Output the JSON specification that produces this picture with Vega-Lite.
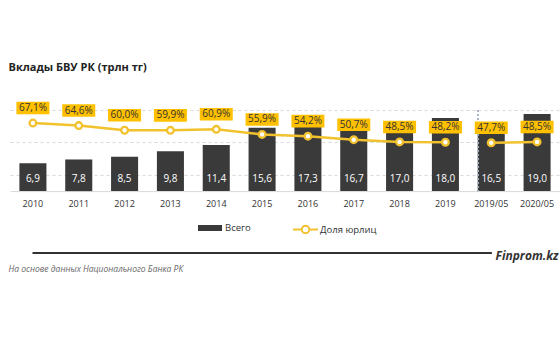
{
  "$schema": "https://vega.github.io/schema/vega-lite/v6.json",
  "autosize": "none",
  "width": 550,
  "height": 146,
  "padding": {"left": 10, "top": 110, "right": 0, "bottom": 97},
  "background": "white",
  "config": {
    "locale": {"number": {"decimal": ",", "thousands": " ", "grouping": [3], "currency": ["", ""]}},
    "font": "Open Sans",
    "view": {"stroke": null}
  },
  "data": {
    "values": [
      {"period": "2010", "total": 6.9, "share": 0.671, "grp": "год"},
      {"period": "2011", "total": 7.8, "share": 0.646, "grp": "год"},
      {"period": "2012", "total": 8.5, "share": 0.600, "grp": "год"},
      {"period": "2013", "total": 9.8, "share": 0.599, "grp": "год"},
      {"period": "2014", "total": 11.4, "share": 0.609, "grp": "год"},
      {"period": "2015", "total": 15.6, "share": 0.559, "grp": "год"},
      {"period": "2016", "total": 17.3, "share": 0.542, "grp": "год"},
      {"period": "2017", "total": 16.7, "share": 0.507, "grp": "год"},
      {"period": "2018", "total": 17.0, "share": 0.485, "grp": "год"},
      {"period": "2019", "total": 18.0, "share": 0.482, "grp": "год"},
      {"period": "2019/05", "total": 16.5, "share": 0.477, "grp": "май"},
      {"period": "2020/05", "total": 19.0, "share": 0.485, "grp": "май"}
    ]
  },
  "encoding": {
    "x": {
      "field": "period",
      "type": "nominal",
      "sort": null,
      "scale": {"paddingInner": 0.41, "paddingOuter": 0.205},
      "axis": {
        "offset": -64.9,
        "labelAngle": 0,
        "labelFontSize": 9,
        "labelColor": "#333333",
        "labelPadding": 8,
        "ticks": false,
        "domainColor": "#D9D9D9",
        "title": "На основе данных Национального Банка РК",
        "titleFontSize": 8.5,
        "titleFontStyle": "italic",
        "titleFontWeight": "normal",
        "titleColor": "#666666",
        "titleAnchor": "start",
        "titleAlign": "left",
        "titleBaseline": "alphabetic",
        "titleX": -2,
        "titleY": 80
      }
    }
  },
  "layer": [
    {
      "layer": [
        {
          "mark": {"type": "bar", "color": "#3A3A3A"},
          "encoding": {
            "y": {
              "field": "total",
              "type": "quantitative",
              "scale": {"domain": [-16, 20], "nice": false, "zero": false},
              "axis": {
                "values": [4, 8, 12, 16, 20],
                "labels": false,
                "ticks": false,
                "domain": false,
                "grid": true,
                "gridDash": [3, 3],
                "gridColor": "#D9D9D9",
                "title": "Вклады БВУ РК (трлн тг)",
                "titleAngle": 0,
                "titleAlign": "left",
                "titleBaseline": "alphabetic",
                "titleX": -2,
                "titleY": -40,
                "titleFontSize": 11,
                "titleFontWeight": "bold",
                "titleColor": "#222222"
              }
            },
            "y2": {"datum": 0},
            "color": {
              "datum": "Всего",
              "scale": {"range": ["#3A3A3A"]},
              "legend": {
                "title": null,
                "orient": "none",
                "legendX": 188,
                "legendY": 106,
                "symbolType": "M-1,-0.25L1,-0.25L1,0.25L-1,0.25Z",
                "symbolSize": 576,
                "symbolStrokeWidth": 0,
                "labelFontSize": 9.5,
                "labelColor": "#333333",
                "labelOffset": 3
              }
            }
          }
        },
        {
          "mark": {"type": "text", "color": "white", "fontSize": 10, "baseline": "middle", "dy": -12},
          "encoding": {
            "y": {"datum": 0},
            "text": {"field": "total", "type": "quantitative", "format": ".1f"}
          }
        },
        {
          "mark": {"type": "rule", "color": "#A7B3C6", "strokeDash": [2, 2], "strokeWidth": 1},
          "encoding": {
            "x": {"datum": "2019/05", "bandPosition": 0},
            "y": {"datum": 20},
            "y2": {"datum": 0}
          }
        },
        {
          "mark": {"type": "rule", "color": "#333333", "strokeWidth": 1.3},
          "encoding": {
            "y": {"datum": -15.3},
            "x": {"datum": "2010"},
            "x2": {"datum": "2019/05"}
          }
        }
      ]
    },
    {
      "layer": [
        {
          "mark": {"type": "line", "strokeWidth": 2.5},
          "encoding": {
            "y": {
              "field": "share",
              "type": "quantitative",
              "scale": {"domain": [-0.641, 0.8], "nice": false, "zero": false},
              "axis": {
                "orient": "right",
                "labels": false,
                "ticks": false,
                "domain": false,
                "grid": false,
                "title": "Finprom.kz",
                "titleAngle": 0,
                "titleAlign": "right",
                "titleBaseline": "alphabetic",
                "titleX": -2,
                "titleY": 149,
                "titleFontSize": 12,
                "titleFontStyle": "italic",
                "titleFontWeight": "bold",
                "titleColor": "#333333"
              }
            },
            "detail": {"field": "grp"},
            "stroke": {
              "datum": "Доля юрлиц",
              "scale": {"range": ["#F2C12E"]},
              "legend": {
                "title": null,
                "orient": "none",
                "legendX": 282,
                "legendY": 106,
                "symbolType": "M-1,0L-0.3,0M0.3,0L1,0M-0.3,0A0.3,0.3 0 1 0 0.3,0A0.3,0.3 0 1 0 -0.3,0",
                "symbolSize": 625,
                "symbolStrokeWidth": 2,
                "symbolFillColor": "white",
                "labelFontSize": 9.5,
                "labelColor": "#333333",
                "labelOffset": 1
              }
            }
          }
        },
        {
          "mark": {"type": "point", "filled": true, "fill": "white", "stroke": "#F2C12E", "strokeWidth": 2.3, "size": 45, "opacity": 1},
          "encoding": {"y": {"field": "share", "type": "quantitative"}}
        },
        {
          "mark": {"type": "point", "filled": true, "color": "#FFC000", "opacity": 1, "size": 1089, "shape": "M-1,-0.38L1,-0.38L1,0.38L-1,0.38Z", "yOffset": -15},
          "encoding": {"y": {"field": "share", "type": "quantitative"}}
        },
        {
          "mark": {"type": "text", "color": "#333333", "fontSize": 10, "baseline": "middle", "yOffset": -15},
          "encoding": {
            "y": {"field": "share", "type": "quantitative"},
            "text": {"field": "share", "type": "quantitative", "format": ".1%"}
          }
        }
      ]
    }
  ],
  "resolve": {"scale": {"y": "independent"}}
}
